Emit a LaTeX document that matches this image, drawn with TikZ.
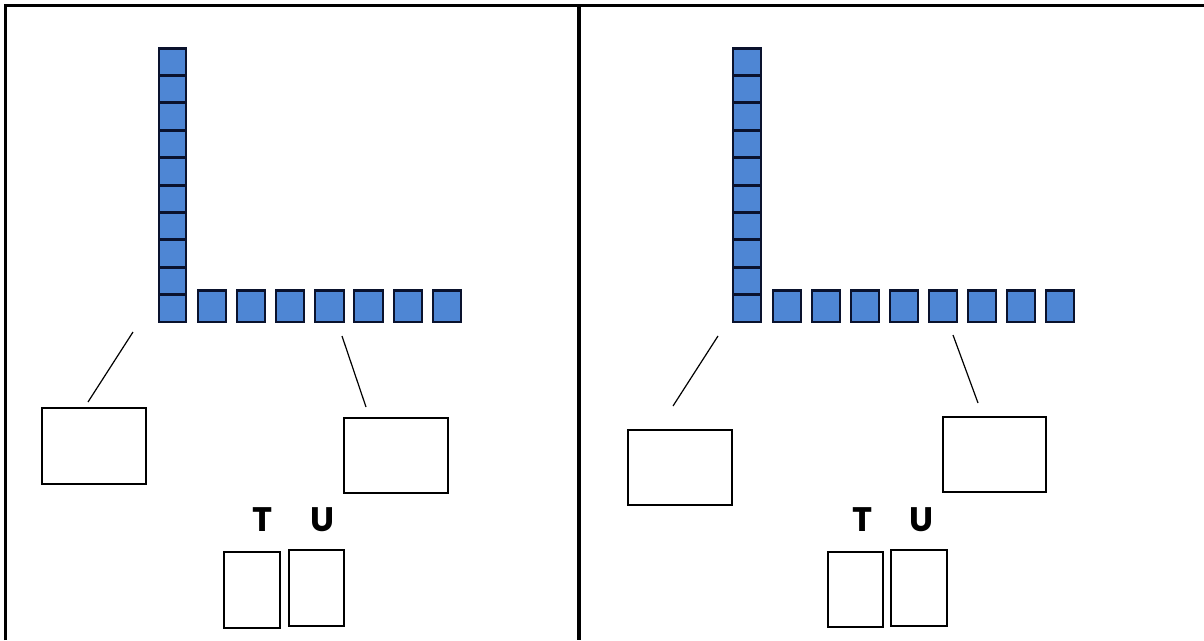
\documentclass[tikz,border=0pt]{standalone}
\usepackage{fontspec}
\setmainfont{Poppins}
\definecolor{sqblue}{RGB}{78,134,212}
\definecolor{sqedge}{RGB}{10,18,45}
\begin{document}
\begin{tikzpicture}[x=1pt,y=-1pt,
  frame/.style={line width=3.8pt},
  cube/.style={fill=sqblue,draw=sqedge,line width=2pt},
  cubetop/.style={draw=sqedge,line width=3pt},
  answer/.style={draw,line width=1.6pt,minimum width=0pt,inner sep=0pt},
  lead/.style={line width=1.2pt},
  lab/.style={font=\fontsize{34}{34}\selectfont\bfseries,inner sep=0pt}]
\useasboundingbox (0,0) rectangle (1204,640);
% frame
\draw[frame] (5.5,640) -- (5.5,5.5) -- (1204,5.5);
\draw[frame] (579,5.5) -- (579,640);
% ---------- left panel ----------
\foreach \i in {0,...,9}{
  \draw[cube] (158.5,47.5+27.4*\i) rectangle (186,47.5+27.4*\i+27.4);
  \draw[cubetop] (158.5,48+27.4*\i) -- (186,48+27.4*\i);}
\foreach \i in {0,...,6}{
  \draw[cube] (197.5+39.2*\i,290) rectangle (226+39.2*\i,321.5);
  \draw[cubetop] (197.5+39.2*\i,290.5) -- (226+39.2*\i,290.5);}
\node[answer,minimum width=104pt,minimum height=76pt] (LA) at (94,446) {};
\node[answer,minimum width=104pt,minimum height=75pt] (LB) at (396,455.5) {};
\coordinate (LA1) at (133,332); \coordinate (LA2) at (88,402);
\coordinate (LB1) at (342,336); \coordinate (LB2) at (366,407);
\draw[lead] (LA1) -- (LA2);
\draw[lead] (LB1) -- (LB2);
\node[lab] (LT) at (263,520) {T};
\node[lab] (LU) at (322,520) {U};
\node[answer,minimum width=56pt,minimum height=76pt] (LTB) at (252,590) {};
\node[answer,minimum width=55pt,minimum height=76pt] (LUB) at (316.5,588) {};
% ---------- right panel ----------
\foreach \i in {0,...,9}{
  \draw[cube] (733,47.5+27.4*\i) rectangle (761,47.5+27.4*\i+27.4);
  \draw[cubetop] (733,48+27.4*\i) -- (761,48+27.4*\i);}
\foreach \i in {0,...,7}{
  \draw[cube] (772.5+39.1*\i,290) rectangle (800.5+39.1*\i,321.5);
  \draw[cubetop] (772.5+39.1*\i,290.5) -- (800.5+39.1*\i,290.5);}
\node[answer,minimum width=104pt,minimum height=75pt] (RA) at (680,467.5) {};
\node[answer,minimum width=103pt,minimum height=75pt] (RB) at (994.5,454.5) {};
\coordinate (RA1) at (718,336); \coordinate (RA2) at (673,406);
\coordinate (RB1) at (953,335); \coordinate (RB2) at (978,403);
\draw[lead] (RA1) -- (RA2);
\draw[lead] (RB1) -- (RB2);
\node[lab] (RT) at (863,520) {T};
\node[lab] (RU) at (921,520) {U};
\node[answer,minimum width=55pt,minimum height=75pt] (RTB) at (855.5,589.5) {};
\node[answer,minimum width=56pt,minimum height=76pt] (RUB) at (919,588) {};
\end{tikzpicture}
\end{document}
